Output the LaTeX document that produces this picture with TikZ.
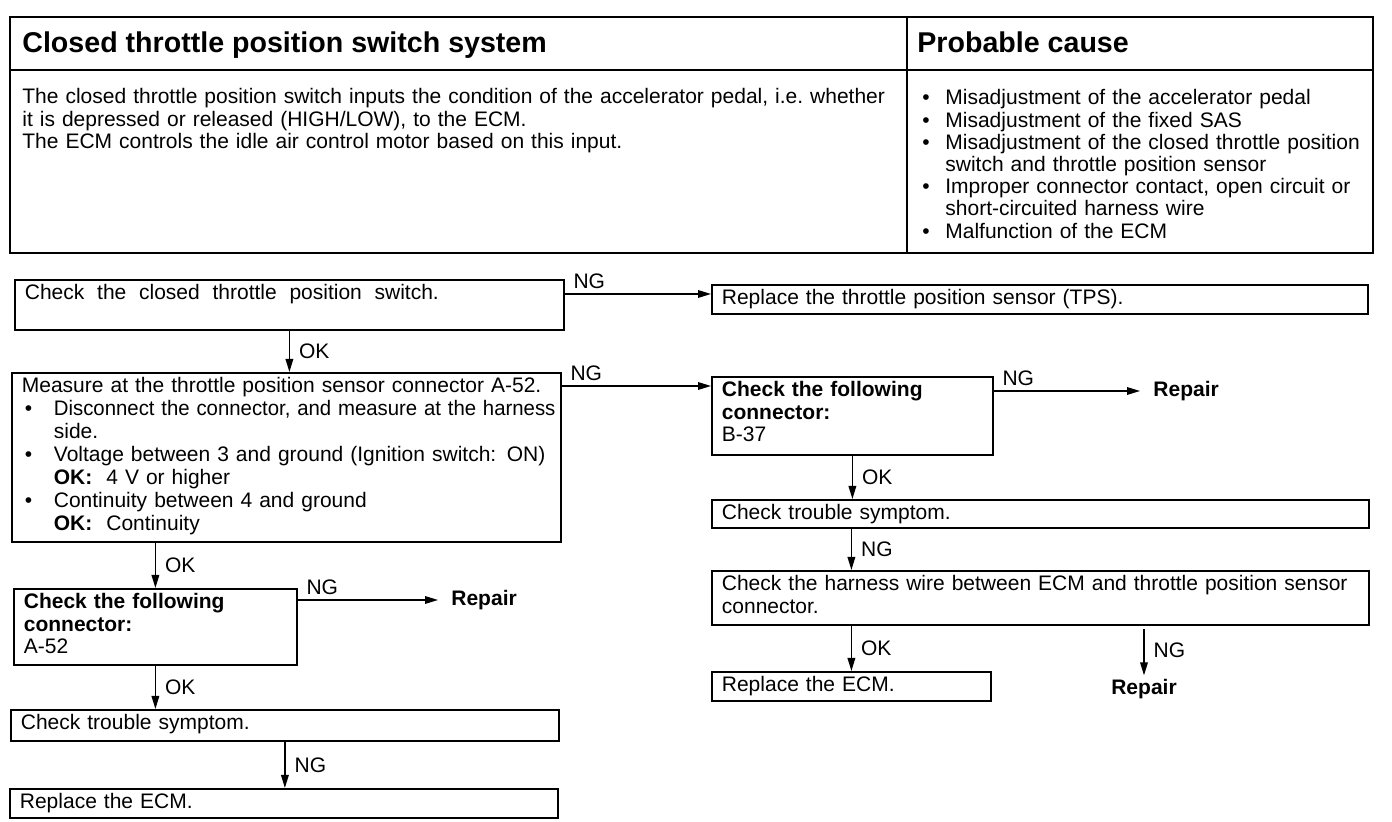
\documentclass[tikz,border=0pt]{standalone}
\usepackage{fontspec}
\usepackage{graphicx}
\setmainfont{Liberation Sans}
\usetikzlibrary{arrows.meta,positioning,calc}
\newcommand{\bfirst}[1]{\hangindent=#1\hangafter=1\noindent\makebox[#1][l]{\hspace{1.5pt}\textbullet}}
\newcommand{\bitem}[1]{\par\bfirst{#1}}

\begin{document}
\begin{tikzpicture}[
  x=0.5pt, y=-0.5pt,
  every node/.style={font=\fontsize{10.5pt}{11.1pt}\selectfont},
  box/.style={draw,line width=0.9pt,anchor=north west,align=left,inner xsep=5pt,inner ysep=2.5pt,text height=7.5pt},
  flow/.style={-{Triangle[length=6.5pt,width=3.8pt]},line width=0.7pt},
  lbl/.style={inner sep=1.5pt},
  rep/.style={font=\fontsize{10.5pt}{11.1pt}\selectfont\bfseries,inner sep=2pt}
]
\useasboundingbox (0,0) rectangle (1392,822);

% table
\draw[line width=1pt] (10,17) rectangle (1373,253);
\draw[line width=0.9pt] (10,70) -- (1373,70) (907,17) -- (907,253);
\node[anchor=base west,inner sep=0,font=\fontsize{14.3pt}{16pt}\selectfont\bfseries] (ttl) at (22,53) {Closed throttle position switch system};
\node[anchor=base west,inner sep=0,font=\fontsize{14.3pt}{16pt}\selectfont\bfseries] (pc) at (917,53) {Probable cause};
\node[anchor=base west,inner sep=0,text width=437.5pt,align=left] (desc) at (22,104)
  {\makebox[437.5pt][s]{The closed throttle position switch inputs the condition of the accelerator pedal, i.e.\ whether}\\
   it is depressed or released (HIGH/LOW), to the ECM.\\
   The ECM controls the idle air control motor based on this input.};
\node[anchor=base west,inner sep=0,text width=224pt,align=left] (cause) at (919,105)
  {\bfirst{13pt}Misadjustment of the accelerator pedal
   \bitem{13pt}Misadjustment of the fixed SAS
   \bitem{13pt}Misadjustment of the closed throttle position\newline switch and throttle position sensor
   \bitem{13pt}Improper connector contact, open circuit or\newline short-circuited harness wire
   \bitem{13pt}Malfunction of the ECM\par};

% boxes
\node[box,text width=264.5pt,text depth=12.5pt] (chk) at (14,279)
  {\makebox[207pt][l]{Check\hfill the\hfill closed\hfill throttle\hfill position\hfill switch.}};
\node[box,text width=318pt,text depth=2pt] (tps) at (711,284) {Replace the throttle position sensor (TPS).};
\node[box,text width=264.5pt,text depth=72pt,font=\fontsize{10.5pt}{11.5pt}\selectfont] (meas) at (11,372)
  {Measure at the throttle position sensor connector A-52.
   \bitem{16pt}\scalebox{0.97}[1]{Disconnect the connector, and measure at the harness}\newline side.
   \bitem{16pt}Voltage between 3 and ground (Ignition switch: ON)\newline\textbf{OK:}\ \ 4 V or higher
   \bitem{16pt}Continuity between 4 and ground\newline\textbf{OK:}\ \ Continuity\par};
\node[box,text width=130.5pt,text depth=26.5pt] (b37) at (711,376) {\textbf{Check the following}\\\textbf{connector:}\\B-37};
\node[box,text width=318.5pt,text depth=1.5pt] (ctsR) at (711,499) {Check trouble symptom.};
\node[box,text width=318.5pt,text depth=14.5pt] (harn) at (711,570)
  {\makebox[318pt][s]{Check the harness wire between ECM and throttle position sensor}\\connector.};
\node[box,text width=129.5pt,text depth=2pt] (ecmR) at (711,671) {Replace the ECM.};
\node[box,text width=131.5pt,text depth=25.5pt] (a52) at (13,588) {\textbf{Check the following}\\\textbf{connector:}\\A-52};
\node[box,text width=264pt,text depth=3pt] (ctsL) at (10,709) {Check trouble symptom.};
\node[box,text width=264pt,text depth=2pt] (ecmL) at (9,788) {Replace the ECM.};

\node[rep,anchor=west] (repB) at (1149,391) {Repair};
\node[rep,anchor=west] (repA) at (447,600) {Repair};
\node[rep,anchor=base] (repR) at (1144,695) {Repair};

% connectors
\coordinate (ngA) at ([yshift=-7.5pt]chk.north east);
\coordinate (ngB) at ([yshift=-5pt]b37.north west);
\draw[flow] (ngA) node[lbl,above right=1pt and 2.5pt] (ngAl) {NG} -- (ngA -| tps.west);
\draw[flow] (meas.east |- ngB) node[lbl,above right=1pt and 2.5pt] (ngBl) {NG} -- (ngB);
\draw[flow,shorten >=4.5pt] (b37.east |- repB) node[lbl,above right=1pt and 2.5pt] (ngCl) {NG} -- (repB.west);
\draw[flow,shorten >=4.5pt] (a52.east |- repA) node[lbl,above right=1pt and 2.5pt] (ngDl) {NG} -- (repA.west);

\draw[flow] (chk.south) -- node[lbl,right=3pt] (okA) {OK} (chk.south |- meas.north);
\draw[flow] (meas.south -| a52.north) -- node[lbl,right=3pt] (okB) {OK} (a52.north);
\draw[flow] (a52.south) -- node[lbl,right=3pt] (okC) {OK} (a52.south |- ctsL.north);
\draw[flow] (ctsL.south) -- node[lbl,right=3pt] (ngE) {NG} (ctsL.south |- ecmL.north);
\draw[flow] (b37.south) -- node[lbl,right=3pt] (okD) {OK} (b37.south |- ctsR.north);
\draw[flow] (ctsR.south -| ecmR.north) -- node[lbl,right=3pt] (ngF) {NG} (harn.north -| ecmR.north);
\draw[flow] (harn.south -| ecmR.north) -- node[lbl,right=3pt] (okE) {OK} (ecmR.north);
\draw[flow,shorten <=1.5pt] (harn.south -| repR.north) -- node[lbl,right=3pt] (ngG) {NG} (repR.north);
\end{tikzpicture}
\end{document}
